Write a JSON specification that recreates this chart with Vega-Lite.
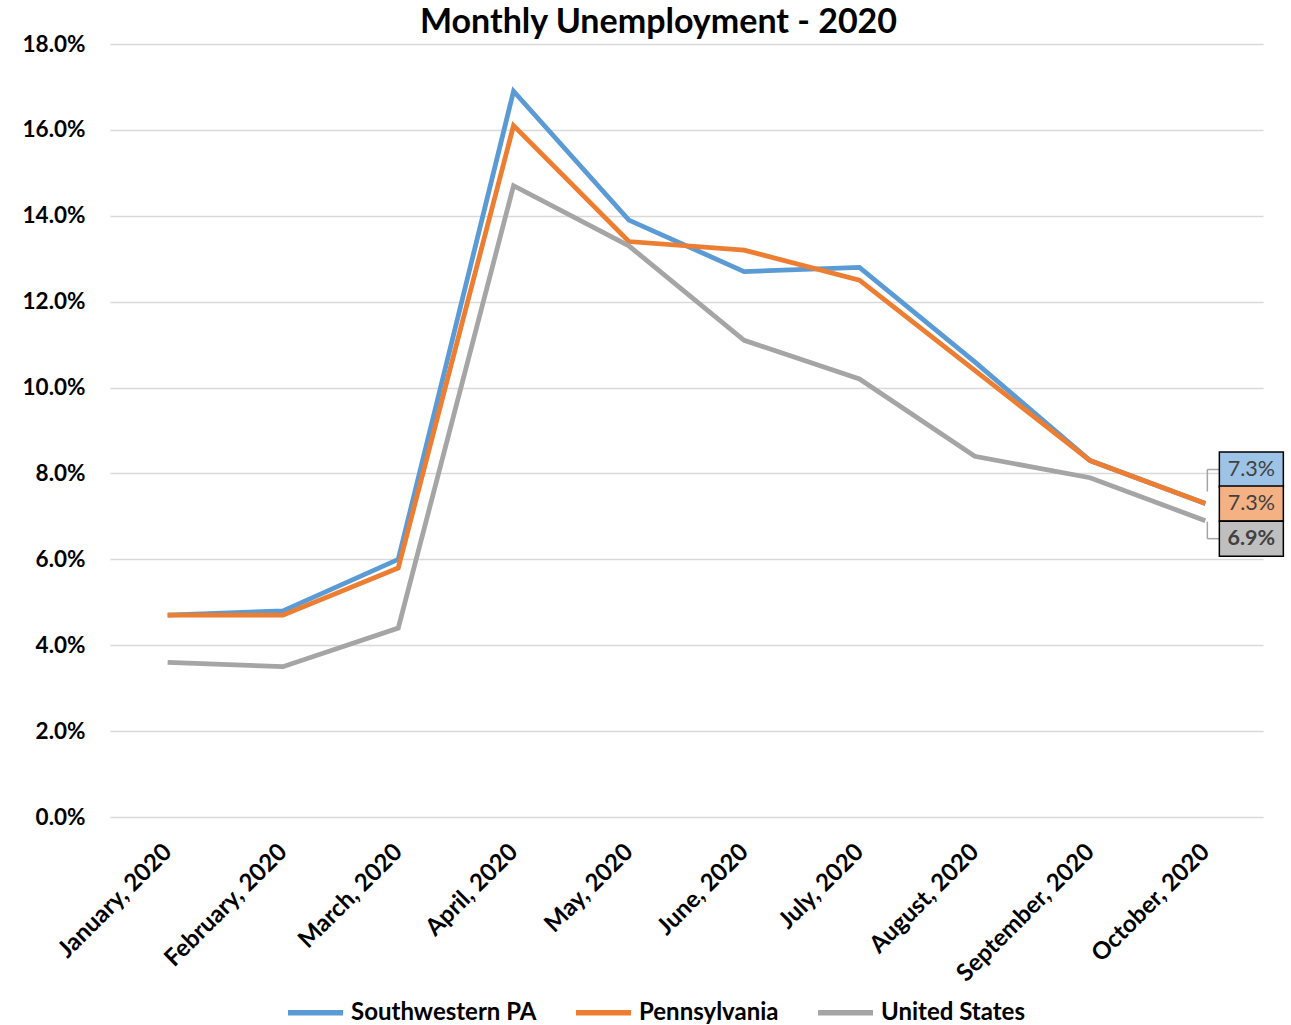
{
  "$schema": "https://vega.github.io/schema/vega-lite/v6.json",
  "autosize": "none",
  "padding": {"left": 110, "top": 44, "right": 28, "bottom": 208},
  "width": 1153,
  "height": 773,
  "background": "white",
  "config": {"view": {"stroke": null}, "font": "Lato"},
  "title": {"text": "Monthly Unemployment - 2020", "fontSize": 34, "fontWeight": "bold", "font": "Lato", "color": "black", "anchor": "middle", "dx": -28, "offset": -7},
  "data": {"values": [
    {"month": "January, 2020", "series": "Southwestern PA", "value": 0.047},
    {"month": "February, 2020", "series": "Southwestern PA", "value": 0.048},
    {"month": "March, 2020", "series": "Southwestern PA", "value": 0.060},
    {"month": "April, 2020", "series": "Southwestern PA", "value": 0.169},
    {"month": "May, 2020", "series": "Southwestern PA", "value": 0.139},
    {"month": "June, 2020", "series": "Southwestern PA", "value": 0.127},
    {"month": "July, 2020", "series": "Southwestern PA", "value": 0.128},
    {"month": "August, 2020", "series": "Southwestern PA", "value": 0.106},
    {"month": "September, 2020", "series": "Southwestern PA", "value": 0.083},
    {"month": "October, 2020", "series": "Southwestern PA", "value": 0.073},
    {"month": "January, 2020", "series": "Pennsylvania", "value": 0.047},
    {"month": "February, 2020", "series": "Pennsylvania", "value": 0.047},
    {"month": "March, 2020", "series": "Pennsylvania", "value": 0.058},
    {"month": "April, 2020", "series": "Pennsylvania", "value": 0.161},
    {"month": "May, 2020", "series": "Pennsylvania", "value": 0.134},
    {"month": "June, 2020", "series": "Pennsylvania", "value": 0.132},
    {"month": "July, 2020", "series": "Pennsylvania", "value": 0.125},
    {"month": "August, 2020", "series": "Pennsylvania", "value": 0.104},
    {"month": "September, 2020", "series": "Pennsylvania", "value": 0.083},
    {"month": "October, 2020", "series": "Pennsylvania", "value": 0.073},
    {"month": "January, 2020", "series": "United States", "value": 0.036},
    {"month": "February, 2020", "series": "United States", "value": 0.035},
    {"month": "March, 2020", "series": "United States", "value": 0.044},
    {"month": "April, 2020", "series": "United States", "value": 0.147},
    {"month": "May, 2020", "series": "United States", "value": 0.133},
    {"month": "June, 2020", "series": "United States", "value": 0.111},
    {"month": "July, 2020", "series": "United States", "value": 0.102},
    {"month": "August, 2020", "series": "United States", "value": 0.084},
    {"month": "September, 2020", "series": "United States", "value": 0.079},
    {"month": "October, 2020", "series": "United States", "value": 0.069}
  ]},
  "encoding": {
    "x": {"field": "month", "type": "ordinal", "sort": null,
      "scale": {"type": "point", "padding": 0.5},
      "axis": {"title": null, "labelAngle": -45, "labelAlign": "right", "labelBaseline": "middle", "labelFontSize": 24, "labelFontWeight": "bold", "labelColor": "black", "labelPadding": 31, "labelLimit": 400, "labelOverlap": false, "ticks": false, "domain": false, "grid": false}},
    "y": {"field": "value", "type": "quantitative",
      "scale": {"domain": [0, 0.18], "nice": false},
      "axis": {"title": null, "values": [0, 0.02, 0.04, 0.06, 0.08, 0.1, 0.12, 0.14, 0.16, 0.18], "format": ".1%", "labelFontSize": 22.5, "labelFontWeight": "bold", "labelColor": "black", "labelPadding": 25, "ticks": false, "domain": false, "gridColor": "#d9d9d9", "gridWidth": 1.5}}
  },
  "layer": [
    {
      "mark": {"type": "line", "strokeWidth": 4.8},
      "encoding": {
        "color": {"field": "series", "type": "nominal",
          "scale": {"domain": ["Southwestern PA", "Pennsylvania", "United States"], "range": ["#5b9bd5", "#ed7d31", "#a5a5a5"]},
          "legend": {"title": null, "orient": "none", "legendX": 175, "legendY": 938, "direction": "horizontal", "labelFontSize": 24, "labelFontWeight": "bold", "labelColor": "black", "labelLimit": 400, "symbolType": "stroke", "symbolSize": 3025, "symbolStrokeWidth": 5.5, "columnPadding": 28, "labelOffset": 5}}
      }
    },
    {
      "transform": [{"filter": "datum.month === 'October, 2020' && datum.series === 'Southwestern PA'"}],
      "mark": {"type": "rule", "color": "#a5a5a5", "strokeWidth": 1.5, "xOffset": 2, "x2Offset": 2, "yOffset": -34, "y2Offset": -12},
      "encoding": {"x2": {"field": "month"}, "y2": {"field": "value"}}
    },
    {
      "transform": [{"filter": "datum.month === 'October, 2020' && datum.series === 'Southwestern PA'"}],
      "mark": {"type": "rule", "color": "#a5a5a5", "strokeWidth": 1.5, "xOffset": 2, "x2Offset": 14, "yOffset": -34, "y2Offset": -34},
      "encoding": {"x2": {"field": "month"}, "y2": {"field": "value"}}
    },
    {
      "transform": [{"filter": "datum.month === 'October, 2020' && datum.series === 'United States'"}],
      "mark": {"type": "rule", "color": "#a5a5a5", "strokeWidth": 1.5, "xOffset": 2, "x2Offset": 2, "yOffset": 18, "y2Offset": 1},
      "encoding": {"x2": {"field": "month"}, "y2": {"field": "value"}}
    },
    {
      "transform": [{"filter": "datum.month === 'October, 2020' && datum.series === 'United States'"}],
      "mark": {"type": "rule", "color": "#a5a5a5", "strokeWidth": 1.5, "xOffset": 2, "x2Offset": 14, "yOffset": 18, "y2Offset": 18},
      "encoding": {"x2": {"field": "month"}, "y2": {"field": "value"}}
    },
    {
      "transform": [{"filter": "datum.month === 'October, 2020' && datum.series === 'Southwestern PA'"}],
      "mark": {"type": "point", "shape": "M-1,-0.547L1,-0.547L1,0.547L-1,0.547Z", "size": 4096, "filled": true, "fill": "#9dc3e6", "fillOpacity": 1, "stroke": "black", "strokeWidth": 1.5, "opacity": 1, "xOffset": 46, "yOffset": -34}
    },
    {
      "transform": [{"filter": "datum.month === 'October, 2020' && datum.series === 'Pennsylvania'"}],
      "mark": {"type": "point", "shape": "M-1,-0.547L1,-0.547L1,0.547L-1,0.547Z", "size": 4096, "filled": true, "fill": "#f4b183", "fillOpacity": 1, "stroke": "black", "strokeWidth": 1.5, "opacity": 1, "xOffset": 46, "yOffset": 0}
    },
    {
      "transform": [{"filter": "datum.month === 'October, 2020' && datum.series === 'United States'"}],
      "mark": {"type": "point", "shape": "M-1,-0.547L1,-0.547L1,0.547L-1,0.547Z", "size": 4096, "filled": true, "fill": "#bfbfbf", "fillOpacity": 1, "stroke": "black", "strokeWidth": 1.5, "opacity": 1, "xOffset": 46, "yOffset": 18}
    },
    {
      "transform": [{"filter": "datum.month === 'October, 2020' && datum.series === 'Southwestern PA'"}],
      "mark": {"type": "text", "fontSize": 21.5, "color": "#404040", "dx": 46, "dy": -34, "baseline": "middle", "align": "center"},
      "encoding": {"text": {"field": "value", "type": "quantitative", "format": ".1%"}}
    },
    {
      "transform": [{"filter": "datum.month === 'October, 2020' && datum.series === 'Pennsylvania'"}],
      "mark": {"type": "text", "fontSize": 21.5, "color": "#404040", "dx": 46, "dy": 0, "baseline": "middle", "align": "center"},
      "encoding": {"text": {"field": "value", "type": "quantitative", "format": ".1%"}}
    },
    {
      "transform": [{"filter": "datum.month === 'October, 2020' && datum.series === 'United States'"}],
      "mark": {"type": "text", "fontSize": 21.5, "fontWeight": "bold", "color": "#404040", "dx": 46, "dy": 18, "baseline": "middle", "align": "center"},
      "encoding": {"text": {"field": "value", "type": "quantitative", "format": ".1%"}}
    }
  ]
}
